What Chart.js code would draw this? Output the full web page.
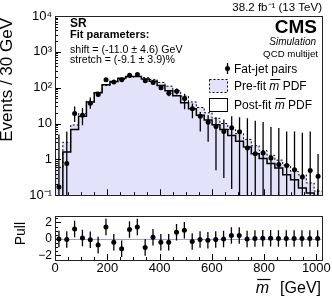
<!DOCTYPE html>
<html><head><meta charset="utf-8">
<script src="https://cdn.jsdelivr.net/npm/chart.js@4.4.1/dist/chart.umd.min.js"></script>
<style>
html,body{margin:0;padding:0;background:#fff;width:332px;height:296px;overflow:hidden}
canvas{position:absolute;left:0}
#main{top:0}
#pull{top:206px}
</style></head><body>
<canvas id="main" width="332" height="206"></canvas>
<canvas id="pull" width="332" height="90"></canvas>
<script>
// ---- data ----
const binLow = [0,30,60,90,120,150,180,210,240,270,300,330,360,390,420,450,480,510,540,570,600,630,660,690,720,750,780,810,840,870,900,930,960,990];
const binHigh = 1020;
const binCenters = [15,45,75,105,135,165,195,225,255,285,315,345,375,405,435,465,495,525,555,585,615,645,675,705,735,765,795,825,855,885,915,945,975,1005];
const dataVals = [0.17,0.77,19,17,37,65,166,145,166,222,232,157,140,100,70,80,50,26,16,10.8,8.3,6,7.6,5.9,2.07,1.43,1.5,1.1,0.72,0.67,0.51,0.32,0.49,0.34];
const dataLow  = [0.01,0.01,11,9,26,55,150,130,150,200,210,140,125,88,58,65,25,14,6,3.1,0.5,0.3,0.15,0.01,0.01,0.01,0.01,0.01,0.01,0.01,0.01,0.01,0.01,0.01];
const dataHigh = [4.9,6,30,27,53,78,185,160,185,245,255,175,157,115,85,95,68,36,21,17,15,13,16,15,14,12,11,8,7.5,6,6,5.5,6,1.4];
const preFit  = [0.6,3.0,9.1,19,42,75,115,140,170,195,205,190,170,140,110,82,58,40,28,20,14,10,6.8,5.2,3.6,2.4,1.76,1.29,0.95,0.69,0.46,0.37,0.22,0.13];
const postFit = [0.08,1.6,6.8,16,40,72,120,148,182,204,205,175,150,115,82,60,38,26,17,12.6,9.2,6.8,4.6,3.2,2.2,1.43,1.05,0.77,0.57,0.37,0.27,0.16,0.115,0.09];
const pullVals = [0.0,-0.07,1.2,0.1,-0.1,-0.75,1.45,-0.4,-1.2,1.15,1.45,-1.05,0.2,-0.4,-0.4,0.8,1.05,-0.3,-0.07,-0.17,-0.07,0,0.42,0.42,0,0.05,0.07,0.07,0.05,0.05,0.05,0.05,0.05,0.05];
const pullErr = [1,1,1,1,1,1,1,1,1,1,1,1,1,1,1,1,1,1,1,1,1,1,1,1,1,1,1,1,1,1,1,1,1,1];
const yTickVals = [0.1,1,10,100,1000,10000];
const yTickLabels = ['10\u207B\u00B9','1','10','10\u00B2','10\u00B3','10\u2074'];
const pullTickVals = [-2,0,2];
const pullTickLabels = ['\u22122','0','2'];
const xTickVals = [0,200,400,600,800,1000];
const xTickLabels = ['0','200','400','600','800','1000'];

const FONT = '"Liberation Sans", Arial, Helvetica, sans-serif';
const FILL = '#e2e2fa';

const stepPts = vals => binLow.map((x,i)=>({x, y: vals[i]})).concat([{x: binHigh, y: vals[vals.length-1]}]);

function drawFrameTicks(chart, xs, ys, logY) {
  const ctx = chart.ctx, a = chart.chartArea;
  ctx.save();
  ctx.strokeStyle = '#000'; ctx.lineWidth = 1;
  ctx.beginPath();
  for (let v = 0; v <= 1020; v += 50) {
    const px = Math.round(xs.getPixelForValue(v)) + 0.5;
    const L = (v % 200 === 0) ? 6 : 3;
    ctx.moveTo(px, a.bottom); ctx.lineTo(px, a.bottom - L);
  }
  if (logY) {
    for (let e = -1; e <= 3; e++) {
      for (let m = 1; m <= 9; m++) {
        const v = m * Math.pow(10, e);
        const py = Math.round(ys.getPixelForValue(v)) + 0.5;
        const L = m === 1 ? 6 : 3;
        ctx.moveTo(a.left, py); ctx.lineTo(a.left + L, py);
      }
    }
    const py = Math.round(ys.getPixelForValue(10000)) + 0.5;
    ctx.moveTo(a.left, py); ctx.lineTo(a.left + 6, py);
  } else {
    for (let v = -2.5; v <= 2.5; v += 0.5) {
      const py = Math.round(ys.getPixelForValue(v)) + 0.5;
      const L = (Math.abs(v) % 2 === 0) ? 6 : 3;
      ctx.moveTo(a.left, py); ctx.lineTo(a.left + L, py);
    }
  }
  ctx.stroke();
  ctx.strokeStyle = '#222';
  ctx.strokeRect(Math.round(a.left)+0.5, Math.round(a.top)+0.5, Math.round(a.right-a.left), Math.round(a.bottom-a.top));
  ctx.restore();
}

const mainPlugin = {
  id: 'mainDeco',
  afterDatasetsDraw(chart) {
    const ctx = chart.ctx, xs = chart.scales.x, ys = chart.scales.y, a = chart.chartArea;
    ctx.save();
    ctx.beginPath(); ctx.rect(a.left, a.top, a.right-a.left, a.bottom-a.top); ctx.clip();
    ctx.strokeStyle = '#000'; ctx.lineWidth = 1.3;
    ctx.beginPath();
    binCenters.forEach((c,i) => {
      const px = xs.getPixelForValue(c);
      ctx.moveTo(px, ys.getPixelForValue(Math.max(dataLow[i], 0.01)));
      ctx.lineTo(px, ys.getPixelForValue(dataHigh[i]));
    });
    ctx.stroke();
    ctx.restore();
  },
  afterDraw(chart) {
    const ctx = chart.ctx;
    drawFrameTicks(chart, chart.scales.x, chart.scales.y, true);
    ctx.save();
    ctx.fillStyle = '#000';
    // header
    ctx.textAlign = 'right'; ctx.textBaseline = 'alphabetic';
    ctx.font = '11.5px ' + FONT;
    ctx.fillText('38.2 fb\u207B\u00B9 (13 TeV)', 322, 11);
    ctx.font = 'bold 19px ' + FONT;
    ctx.fillText('CMS', 317, 33);
    ctx.font = 'italic 10px ' + FONT;
    ctx.fillText('Simulation', 316, 45);
    ctx.font = '9.7px ' + FONT;
    ctx.fillText('QCD multijet', 318, 57);
    // left info
    ctx.textAlign = 'left';
    ctx.font = 'bold 12px ' + FONT;
    ctx.fillText('SR', 70, 27);
    ctx.font = 'bold 11px ' + FONT;
    ctx.fillText('Fit parameters:', 70, 38);
    ctx.font = '10.6px ' + FONT;
    ctx.fillText('shift = (-11.0 \u00B1 4.6) GeV', 70, 53);
    ctx.fillText('stretch = (-9.1 \u00B1 3.9)%', 70, 63);
    // legend
    ctx.strokeStyle = '#000'; ctx.lineWidth = 1.3;
    ctx.beginPath(); ctx.moveTo(227.5, 63); ctx.lineTo(227.5, 74); ctx.stroke();
    ctx.beginPath(); ctx.arc(227.5, 68.5, 2.5, 0, Math.PI*2); ctx.fill();
    ctx.fillStyle = FILL; ctx.fillRect(209.5, 79.5, 18, 13);
    ctx.lineWidth = 1; ctx.setLineDash([2,2]); ctx.strokeRect(209.5, 79.5, 18, 13);
    ctx.setLineDash([]);
    ctx.fillStyle = '#fff'; ctx.fillRect(209.5, 98.5, 18, 13);
    ctx.strokeRect(209.5, 98.5, 18, 13);
    ctx.fillStyle = '#000';
    ctx.font = '12px ' + FONT;
    ctx.fillText('Fat-jet pairs', 234, 72.5);
    const legM = (txt1, txt2, y) => {
      ctx.font = '12px ' + FONT;
      ctx.fillText(txt1, 234, y);
      let x = 234 + ctx.measureText(txt1).width;
      ctx.font = 'italic 12px ' + FONT;
      ctx.fillText('m', x, y);
      const w = ctx.measureText('m').width;
      ctx.lineWidth = 1;
      ctx.beginPath(); ctx.moveTo(x + 1, y - 10.5); ctx.lineTo(x + w + 1, y - 10.5); ctx.stroke();
      ctx.font = '12px ' + FONT;
      ctx.fillText(txt2, x + w, y);
    };
    legM('Pre-fit ', ' PDF', 90);
    legM('Post-fit ', ' PDF', 109);
    // y title
    ctx.save();
    ctx.translate(12, 18); ctx.rotate(-Math.PI/2);
    ctx.textAlign = 'right'; ctx.font = '17px ' + FONT;
    ctx.fillText('Events / 30 GeV', 0, 0);
    ctx.restore();
    ctx.restore();
  }
};

new Chart(document.getElementById('main'), {
  type: 'line',
  data: { datasets: [
    { type:'scatter', label:'Fat-jet pairs', data: binCenters.map((x,i)=>({x, y: dataVals[i]})), pointRadius:2.5, pointBackgroundColor:'#000', pointBorderWidth:0, pointBorderColor:'#000', showLine:false, order:1 },
    { label:'Post-fit', data: stepPts(postFit), stepped:true, fill:false, borderColor:'#000', borderWidth:1.5, pointRadius:0, order:2 },
    { label:'Pre-fit', data: stepPts(preFit), stepped:true, fill:'start', backgroundColor:FILL, borderColor:'#000', borderWidth:1, borderDash:[2,2], pointRadius:0, order:3 }
  ]},
  options: {
    responsive:false, animation:false, events:[],
    layout: { padding: { left:0, right:10, top:16, bottom:3 } },
    plugins: { legend:{display:false}, tooltip:{enabled:false} },
    scales: {
      x: { type:'linear', min:0, max:1020, display:false },
      y: { type:'logarithmic', min:0.1, max:10000,
           afterBuildTicks: s => { s.ticks = yTickVals.map(v => ({value:v})); },
           ticks: { callback: (v) => yTickLabels[yTickVals.indexOf(v)] ?? '', font:{size:13, family:FONT}, color:'#000', padding:3, autoSkip:false },
           grid: { drawOnChartArea:false, drawTicks:false }, border:{display:false},
           afterFit: s => { s.width = 55; } }
    }
  },
  plugins: [mainPlugin]
});

const pullPlugin = {
  id: 'pullDeco',
  beforeDatasetsDraw(chart) {
    const ctx = chart.ctx, a = chart.chartArea, ys = chart.scales.y;
    ctx.save();
    ctx.strokeStyle = '#9a9aff'; ctx.lineWidth = 1;
    const py = Math.round(ys.getPixelForValue(0)) + 0.5;
    ctx.beginPath(); ctx.moveTo(a.left, py); ctx.lineTo(a.right, py); ctx.stroke();
    ctx.strokeStyle = '#000'; ctx.lineWidth = 1.3;
    ctx.beginPath();
    binCenters.forEach((c,i) => {
      const px = chart.scales.x.getPixelForValue(c);
      ctx.moveTo(px, ys.getPixelForValue(pullVals[i] - pullErr[i]));
      ctx.lineTo(px, ys.getPixelForValue(pullVals[i] + pullErr[i]));
    });
    ctx.stroke();
    ctx.restore();
  },
  afterDraw(chart) {
    const ctx = chart.ctx;
    drawFrameTicks(chart, chart.scales.x, chart.scales.y, false);
    ctx.save();
    ctx.fillStyle = '#000';
    ctx.save();
    ctx.translate(25, 16); ctx.rotate(-Math.PI/2);
    ctx.textAlign = 'right'; ctx.font = '14px ' + FONT;
    ctx.fillText('Pull', 0, 0);
    ctx.restore();
    // x title
    const y = 87;
    ctx.font = '16px ' + FONT; ctx.textAlign = 'right';
    ctx.fillText('[GeV]', 321, y);
    ctx.font = 'italic 16px ' + FONT;
    const w1 = ctx.measureText('m').width;
    ctx.fillText('m', 269, y);
    const x0 = 269 - w1;
    ctx.lineWidth = 1.2;
    ctx.beginPath(); ctx.moveTo(x0 + 1.5, y - 13.5); ctx.lineTo(x0 + w1 + 1.5, y - 13.5); ctx.stroke();
    ctx.restore();
  }
};

new Chart(document.getElementById('pull'), {
  type: 'scatter',
  data: { datasets: [
    { label:'Pull', data: binCenters.map((x,i)=>({x, y: pullVals[i]})), pointRadius:2.5, pointBackgroundColor:'#000', pointBorderWidth:0 }
  ]},
  options: {
    responsive:false, animation:false, events:[],
    layout: { padding: { left:0, right:10, top:5, bottom:0 } },
    plugins: { legend:{display:false}, tooltip:{enabled:false} },
    scales: {
      x: { type:'linear', min:0, max:1020,
           afterBuildTicks: s => { s.ticks = xTickVals.map(v => ({value:v})); },
           ticks: { callback: (v) => xTickLabels[xTickVals.indexOf(v)] ?? '', font:{size:13, family:FONT}, color:'#000', padding:1, maxRotation:0, autoSkip:false },
           grid: { drawOnChartArea:false, drawTicks:false }, border:{display:false},
           afterFit: s => { s.height = 36; } },
      y: { type:'linear', min:-2.55, max:2.75,
           afterBuildTicks: s => { s.ticks = pullTickVals.map(v => ({value:v})); },
           ticks: { callback: (v) => pullTickLabels[pullTickVals.indexOf(v)] ?? '', font:{size:12, family:FONT}, color:'#000', padding:3, autoSkip:false },
           grid: { drawOnChartArea:false, drawTicks:false }, border:{display:false},
           afterFit: s => { s.width = 55; } }
    }
  },
  plugins: [pullPlugin]
});
</script>
</body></html>
